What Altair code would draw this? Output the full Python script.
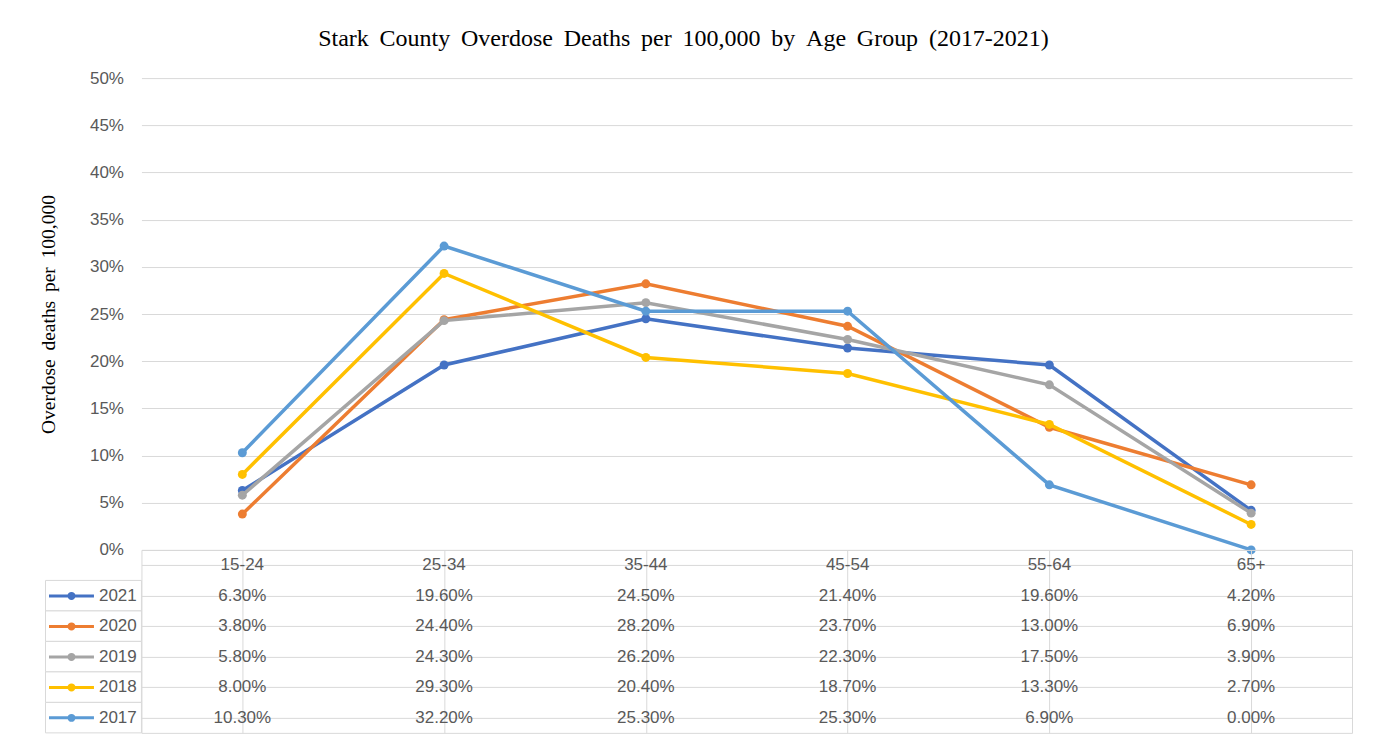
import altair as alt
import pandas as pd

# ---------------- data ----------------
age_groups = ["15-24", "25-34", "35-44", "45-54", "55-64", "65+"]
years = ["2021", "2020", "2019", "2018", "2017"]
rate_2021 = [6.30, 19.60, 24.50, 21.40, 19.60, 4.20]
rate_2020 = [3.80, 24.40, 28.20, 23.70, 13.00, 6.90]
rate_2019 = [5.80, 24.30, 26.20, 22.30, 17.50, 3.90]
rate_2018 = [8.00, 29.30, 20.40, 18.70, 13.30, 2.70]
rate_2017 = [10.30, 32.20, 25.30, 25.30, 6.90, 0.00]
series_colors = ["#4472C4", "#ED7D31", "#A5A5A5", "#FFC000", "#5B9BD5"]
y_tick_values = [0.0, 0.05, 0.10, 0.15, 0.20, 0.25, 0.30, 0.35, 0.40, 0.45, 0.50]

title_text = "Stark County Overdose Deaths per 100,000 by Age Group (2017-2021)"
y_title_text = "Overdose deaths per 100,000"
header_key = "Age group"

# ---------------- styling ----------------
SANS = "Liberation Sans"
SERIF = "Liberation Serif"
GRID = "#D9D9D9"
TXT = "#595959"
PLOT_W, PLOT_H, TABLE_H, LEG_W = 1211, 472, 183, 96
GAP = " \u2009"


def widen(s):
    return GAP.join(s.split(" "))


series = dict(zip(years, [rate_2021, rate_2020, rate_2019, rate_2018, rate_2017]))
long_df = pd.DataFrame(
    [
        {"year": y, "age": a, "rate": v / 100.0, "cell": f"{v:.2f}%"}
        for y in years
        for a, v in zip(age_groups, series[y])
    ]
)
table_df = pd.concat(
    [
        pd.DataFrame({"row": header_key, "age": age_groups, "cell": age_groups}),
        long_df.rename(columns={"year": "row"})[["row", "age", "cell"]],
    ],
    ignore_index=True,
)
row_domain = [header_key] + years
legend_df = pd.DataFrame({"row": years, "col": "legend"})

# ---------------- line chart ----------------
x_point = alt.Scale(type="point", domain=age_groups, padding=0.5)
y_scale = alt.Scale(domain=[0, 0.5], nice=False)
color_scale = alt.Scale(domain=years, range=series_colors)

# legend key: a line with a dot in its middle (path in units of sqrt(size)/2)
sym = (
    "M-2,0H2"
    "M-0.222,0a0.222,0.222 0 1,0 0.444,0a0.222,0.222 0 1,0 -0.444,0"
    "M-0.067,0a0.067,0.067 0 1,0 0.134,0a0.067,0.067 0 1,0 -0.134,0"
)
legend = alt.Legend(
    title=None,
    orient="none",
    legendX=2,
    legendY=505,
    symbolType=sym,
    symbolSize=506.25,
    symbolStrokeWidth=3,
    symbolOffset=11,
    labelFont=SANS,
    labelFontSize=17,
    labelColor=TXT,
    labelOffset=14.5,
    rowPadding=8.5,
    padding=0,
)

y_axis = alt.Axis(
    values=y_tick_values,
    format=".0%",
    domain=False,
    ticks=False,
    labelPadding=18,
    labelFont=SANS,
    labelFontSize=17,
    labelColor=TXT,
    gridColor=GRID,
    gridWidth=1,
    title=widen(y_title_text),
    titleFont=SERIF,
    titleFontSize=19.5,
    titleFontWeight="normal",
    titleColor="black",
    titlePadding=31,
)

layers = []
for yr in years:
    base = alt.Chart(long_df).transform_filter(alt.datum.year == yr)
    layers.append(
        base.mark_line(strokeWidth=3.5).encode(
            x=alt.X("age:N", scale=x_point, axis=None),
            y=alt.Y("rate:Q", scale=y_scale, axis=y_axis),
            color=alt.Color("year:N", scale=color_scale, legend=legend),
        )
    )
    layers.append(
        base.mark_point(filled=True, size=80, opacity=1).encode(
            x=alt.X("age:N", scale=x_point, axis=None),
            y=alt.Y("rate:Q", scale=y_scale, axis=y_axis),
            fill=alt.Fill("year:N", scale=alt.Scale(domain=years, range=series_colors), legend=None),
        )
    )

lines = alt.layer(*layers).properties(width=PLOT_W, height=PLOT_H)

# ---------------- spacer (left of plot) ----------------
spacer = (
    alt.Chart(pd.DataFrame({"v": [0]}))
    .mark_point(opacity=0)
    .properties(width=LEG_W, height=PLOT_H)
)

# ---------------- legend column cells ----------------
legcol = (
    alt.Chart(legend_df)
    .mark_rect(fill="white", stroke=GRID, strokeWidth=1)
    .encode(
        x=alt.X("col:N", scale=alt.Scale(paddingInner=0, paddingOuter=0), axis=None),
        y=alt.Y("row:N", scale=alt.Scale(domain=row_domain, paddingInner=0, paddingOuter=0), axis=None),
    )
    .properties(width=LEG_W, height=TABLE_H)
)

# ---------------- data table ----------------
table = (
    alt.Chart(table_df)
    .mark_text(font=SANS, fontSize=17, color=TXT)
    .encode(
        x=alt.X(
            "age:N",
            scale=alt.Scale(domain=age_groups, paddingInner=0, paddingOuter=0),
            axis=alt.Axis(title=None, labels=False, ticks=False, domain=False, grid=True,
                          gridColor=GRID, bandPosition=0),
        ),
        y=alt.Y(
            "row:N",
            scale=alt.Scale(domain=row_domain, paddingInner=0, paddingOuter=0),
            axis=alt.Axis(title=None, labels=False, ticks=False, domain=False, grid=True,
                          gridColor=GRID, bandPosition=0),
        ),
        text="cell:N",
    )
    .properties(width=PLOT_W, height=TABLE_H, view=alt.ViewBackground(stroke=GRID, strokeWidth=1))
)

chart = (
    alt.concat(spacer, lines, legcol, table, columns=2, spacing=0, bounds="flush")
    .properties(
        title=alt.TitleParams(
            text=widen(title_text),
            font=SERIF,
            fontSize=24,
            fontWeight="normal",
            color="black",
            anchor="middle",
            dx=-12,
            offset=18,
        ),
        padding={"left": 29.5, "top": 19, "right": 15, "bottom": 5},
        background="white",
    )
    .configure_view(strokeWidth=0)
)

chart.save("out.html", embed_options={"renderer": "svg", "actions": False})
